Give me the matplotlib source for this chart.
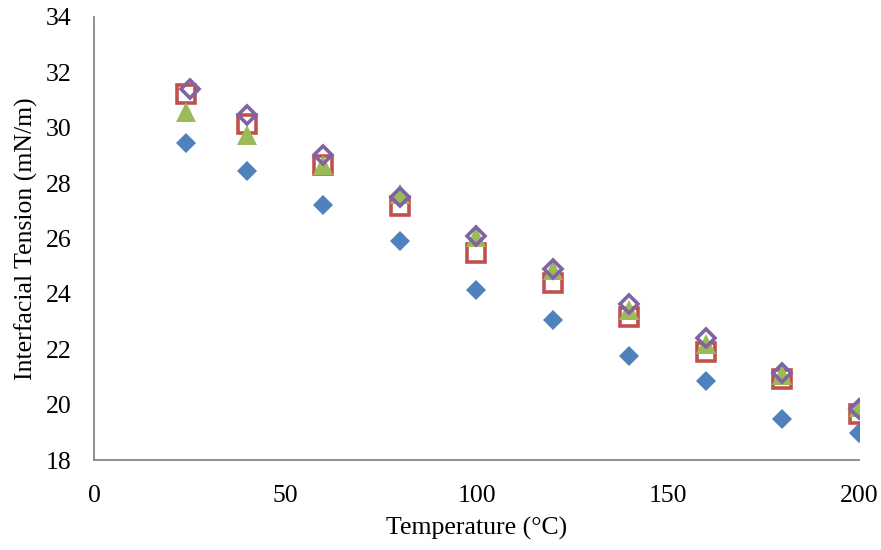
import matplotlib.pyplot as plt

# Interfacial tension vs temperature, four data sets
temp_a = [24, 40, 60, 80, 100, 120, 140, 160, 180, 200]
ift_a = [29.45, 28.44, 27.21, 25.91, 24.14, 23.06, 21.76, 20.85, 19.48, 18.98]

temp_b = [24, 40, 60, 80, 100, 120, 140, 160, 180, 200]
ift_b = [31.22, 30.15, 28.65, 27.17, 25.48, 24.39, 23.18, 21.9, 20.93, 19.66]

temp_c = [24, 40, 60, 80, 100, 120, 140, 160, 180, 200]
ift_c = [30.57, 29.74, 28.65, 27.62, 26.05, 24.85, 23.4, 22.2, 21.08, 19.9]

temp_d = [25, 40, 60, 80, 100, 120, 140, 160, 180, 200]
ift_d = [31.4, 30.46, 29.01, 27.5, 26.09, 24.9, 23.63, 22.4, 21.14, 19.84]

x_ticks = [0, 50, 100, 150, 200]
y_ticks = [18, 20, 22, 24, 26, 28, 30, 32, 34]

plt.rcParams['font.family'] = ['Liberation Serif', 'DejaVu Serif']
fs = 18.5

fig = plt.figure(figsize=(8.81, 5.50), dpi=100)
ax = fig.add_axes([0.1067, 0.1636, 0.8683, 0.8055])

ax.plot(temp_a, ift_a, linestyle='none', marker='D', markersize=10,
        color='#4F81BD', markeredgewidth=0)
ax.plot(temp_b, ift_b, linestyle='none', marker='s', markersize=12.5,
        markerfacecolor='white', markeredgecolor='#C0504D', markeredgewidth=2.6)
ax.plot(temp_c, ift_c, linestyle='none', marker='^', markersize=14,
        color='#9BBB59', markeredgewidth=0)
ax.plot(temp_d, ift_d, linestyle='none', marker='D', markersize=9,
        markerfacecolor='none', markeredgecolor='#8064A2', markeredgewidth=2.6)

ax.set_xlim(0, 200)
ax.set_ylim(18, 34)
ax.set_xticks(x_ticks)
ax.set_yticks(y_ticks)
ax.tick_params(axis='both', length=0, labelsize=fs)
ax.tick_params(axis='y', pad=16)
ax.tick_params(axis='x', pad=18)

for side in ['top', 'right']:
    ax.spines[side].set_visible(False)
for side in ['left', 'bottom']:
    ax.spines[side].set_color('#868686')
    ax.spines[side].set_linewidth(1.3)

ax.set_xlabel('Temperature (°C)', fontsize=fs, labelpad=7)
ax.set_ylabel('Interfacial Tension (mN/m)', fontsize=fs, labelpad=6)

fig.savefig('out.png', dpi=100)
